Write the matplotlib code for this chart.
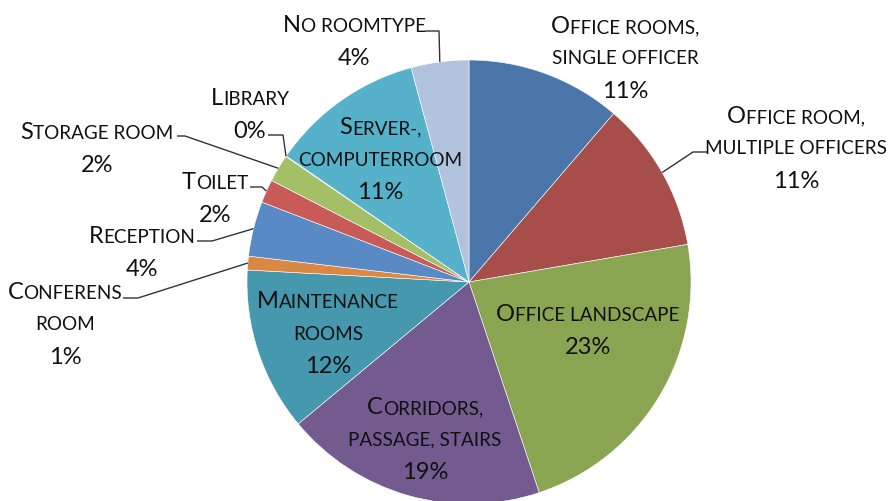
import numpy as np
import matplotlib.pyplot as plt
from matplotlib.offsetbox import TextArea, HPacker, AnnotationBbox

W, H = 888, 502

# slices, clockwise from 12 o'clock
names = ['Office rooms,\nsingle officer', 'Office room,\nmultiple officers',
         'Office landscape', 'Corridors,\npassage, stairs', 'Maintenance\nrooms',
         'Conferens\nroom', 'Reception', 'Toilet', 'Storage room', 'Library',
         'Server-,\ncomputerroom', 'No roomtype']
shares = [11.3, 11.0, 22.6, 19.1, 11.9, 1.0, 4.0, 1.7, 2.0, 0.05, 11.2, 4.2]
pct_labels = ['11%', '11%', '23%', '19%', '12%', '1%', '4%', '2%', '2%', '0%', '11%', '4%']
colors = ['#4A76A9', '#A74D4A', '#8AA552', '#735B8F', '#4698AE', '#DA8843',
          '#5A8AC6', '#C85B58', '#A3C066', '#9C86BA', '#56B2CB', '#B2C3DE']

# label block centres in picture pixels (x, y from top)
label_pos = [(625, 57), (796, 147), (588, 329), (425, 438), (328, 332), (65, 323),
             (142, 251), (215, 197), (97, 147), (250, 113), (380, 158), (354, 40)]
# leader lines: label side x, elbow x, y (picture pixels)
leaders = {1: (708, 693, 153), 5: (123, 138, 299), 6: (197, 212, 242),
           7: (250, 262, 188), 8: (177, 185, 137), 9: (268, 283, 136),
           11: (425, 439, 32)}

center = (469, H - 283)
radius = 222
big, small = 17, 13.6
line_gap = 32.5
text_shift = 2  # boxes include descent, nudge down a bit
font = 'Lato'
txt_col = '#111111'

fig = plt.figure(figsize=(W / 100, H / 100), dpi=100)
ax = fig.add_axes([0, 0, 1, 1])
wedges, _ = ax.pie(shares, colors=colors, startangle=90, counterclock=False,
                   center=center, radius=radius,
                   wedgeprops=dict(edgecolor='white', linewidth=0.4))
ax.set_xlim(0, W)
ax.set_ylim(0, H)
ax.set_aspect('equal')
ax.axis('off')


def smallcaps_line(text, first_big):
    parts = []
    if first_big:
        parts.append(TextArea(text[0], textprops=dict(fontsize=big, family=font, color=txt_col)))
        text = text[1:]
    parts.append(TextArea(text.upper(), textprops=dict(fontsize=small, family=font, color=txt_col)))
    return HPacker(children=parts, align='baseline', pad=0, sep=0)


for i, name in enumerate(names):
    lines = name.split('\n')
    n = len(lines) + 1
    cx, cy = label_pos[i]
    for k in range(n):
        y = cy + (k - (n - 1) / 2) * line_gap + text_shift
        if k < len(lines):
            box = smallcaps_line(lines[k], k == 0)
        else:
            box = TextArea(pct_labels[i], textprops=dict(fontsize=big, family=font, color=txt_col))
        ab = AnnotationBbox(box, (cx, H - y), frameon=False, box_alignment=(0.5, 0.5), pad=0)
        ax.add_artist(ab)

for i, (x0, x1, y) in leaders.items():
    w = wedges[i]
    mid = np.deg2rad((w.theta1 + w.theta2) / 2)
    ex = center[0] + radius * np.cos(mid)
    ey = center[1] + radius * np.sin(mid)
    ax.plot([x0, x1, ex], [H - y, H - y, ey], color='#333333', lw=1.0, solid_capstyle='butt')

fig.savefig('out.png', dpi=100)
